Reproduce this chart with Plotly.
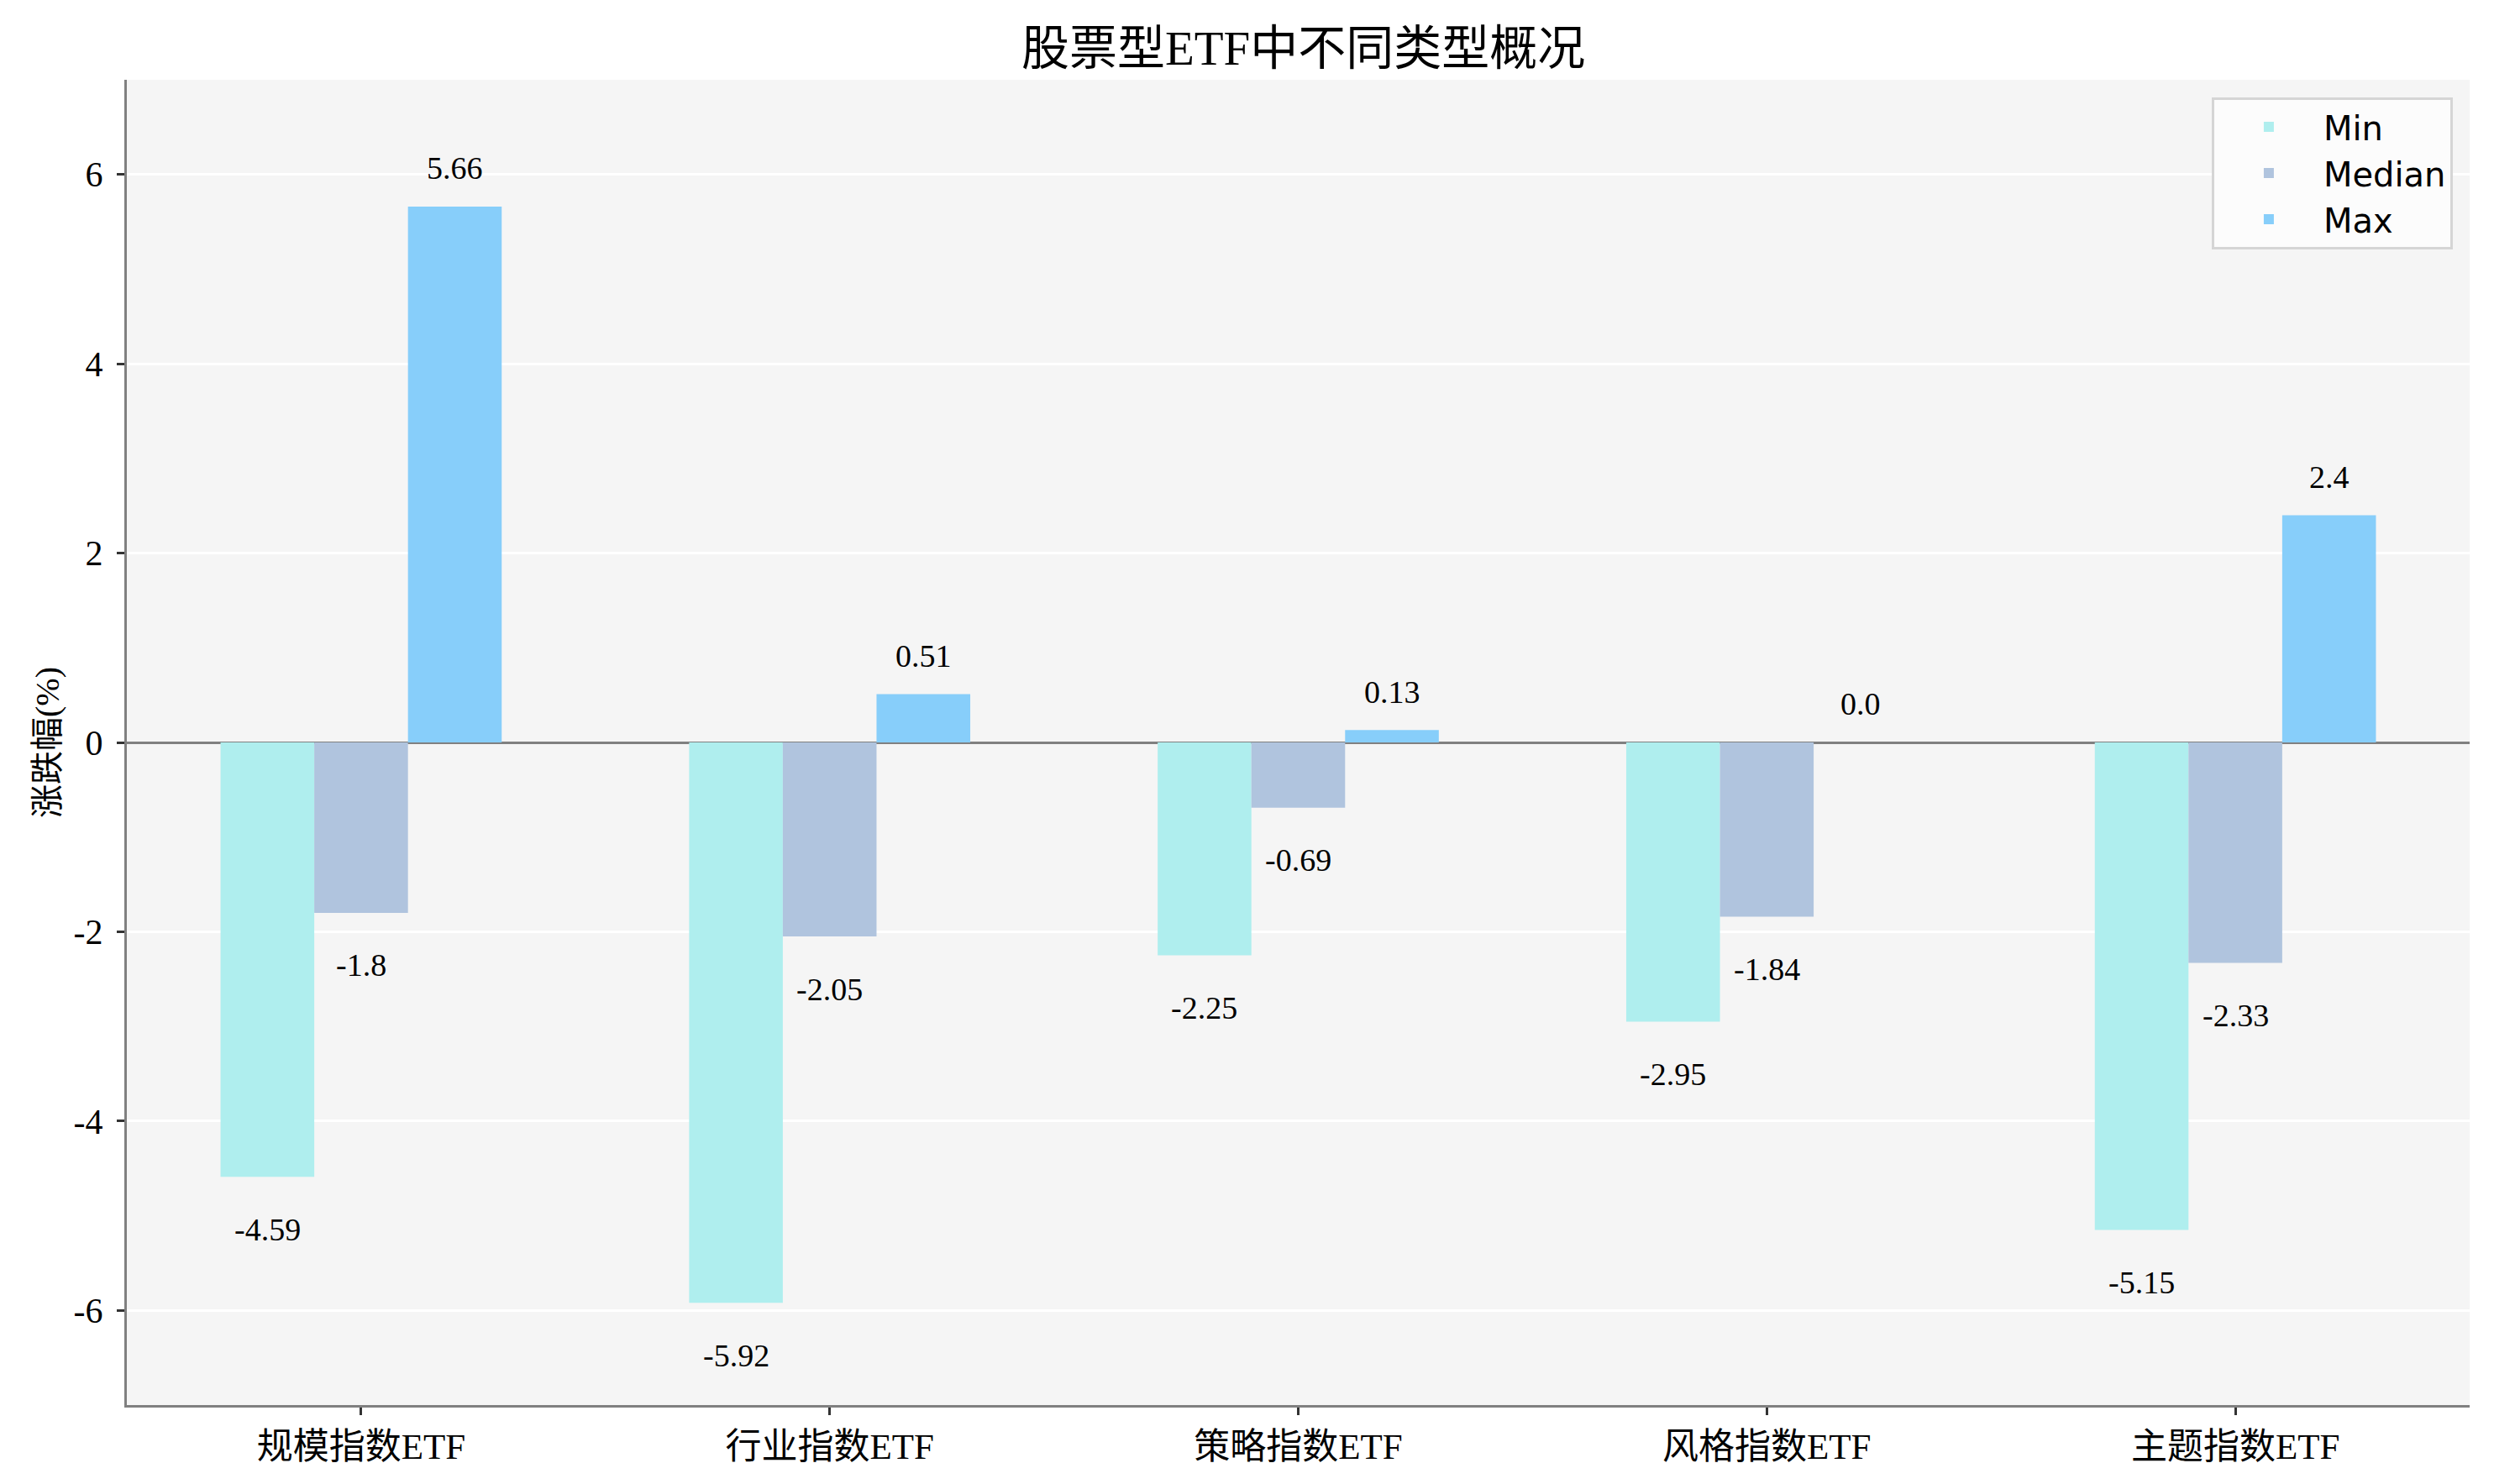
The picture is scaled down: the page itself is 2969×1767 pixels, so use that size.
import plotly.graph_objects as go

# 数据
categories = ['规模指数ETF', '行业指数ETF', '策略指数ETF', '风格指数ETF', '主题指数ETF']
min_vals = [-4.59, -5.92, -2.25, -2.95, -5.15]
median_vals = [-1.8, -2.05, -0.69, -1.84, -2.33]
max_vals = [5.66, 0.51, 0.13, 0.0, 2.4]
y_ticks = [-6, -4, -2, 0, 2, 4, 6]
y_ticktext = ['-6', '-4', '-2', '0', '2', '4', '6']

series = [
    ('Min', min_vals, '#AFEEEE'),
    ('Median', median_vals, '#B0C4DE'),
    ('Max', max_vals, '#87CEFA'),
]

serif = 'Liberation Serif, Noto Sans CJK SC, serif'

fig = go.Figure()
annotations = []
bar_w = 0.2
for k, (name, vals, color) in enumerate(series):
    fig.add_trace(go.Bar(x=categories, y=vals, name=name,
                         marker=dict(color=color, line=dict(width=0))))
    offset = (k - 1) * bar_w
    for i, v in enumerate(vals):
        # 正值标签在柱上方，负值在下方
        if v >= 0:
            y, anchor = v + 0.2, 'bottom'
        else:
            y, anchor = v - 0.35, 'top'
        annotations.append(dict(x=i + offset, y=y, xref='x', yref='y',
                                text=str(v), showarrow=False, yanchor=anchor,
                                font=dict(family=serif, size=38, color='black')))

# 页面默认有 8px 边距，这里把画布缩小一点
fig.update_layout(
    width=2961, height=1759,
    barmode='group', bargap=0.4, bargroupgap=0,
    paper_bgcolor='white', plot_bgcolor='#F5F5F5',
    margin=dict(l=143, r=29, t=87, b=94, autoexpand=False),
    title=dict(text='股票型ETF中不同类型概况', x=0.5213, xanchor='center',
               y=0.972, yanchor='middle',
               font=dict(family=serif, size=57, color='black')),
    legend=dict(x=0.9928, y=0.987, xanchor='right', yanchor='top',
                bgcolor='#FCFCFC', bordercolor='#D5D5D5', borderwidth=3,
                font=dict(family='DejaVu Sans', size=40, color='black'),
                itemwidth=120, tracegroupgap=0),
    annotations=annotations,
    showlegend=True,
)

fig.update_xaxes(range=[-0.5, 4.5], showgrid=False, showline=True,
                 linecolor='#808080', linewidth=3, mirror=False,
                 ticks='outside', ticklen=9, tickwidth=3, tickcolor='#333333',
                 automargin=False,
                 tickfont=dict(family=serif, size=43, color='black'))
fig.update_yaxes(range=[-7, 7], tickvals=y_ticks, ticktext=y_ticktext,
                 showgrid=True, gridcolor='white', gridwidth=3,
                 zeroline=True, zerolinecolor='#808080', zerolinewidth=3,
                 showline=True, linecolor='#808080', linewidth=3, mirror=False,
                 ticks='outside', ticklen=9, tickwidth=3, tickcolor='#333333',
                 ticklabelstandoff=8, automargin=False,
                 tickfont=dict(family=serif, size=42, color='black'),
                 title=dict(text='涨跌幅(%)', standoff=5,
                            font=dict(family=serif, size=40, color='black')))

fig.write_html('out.html')
